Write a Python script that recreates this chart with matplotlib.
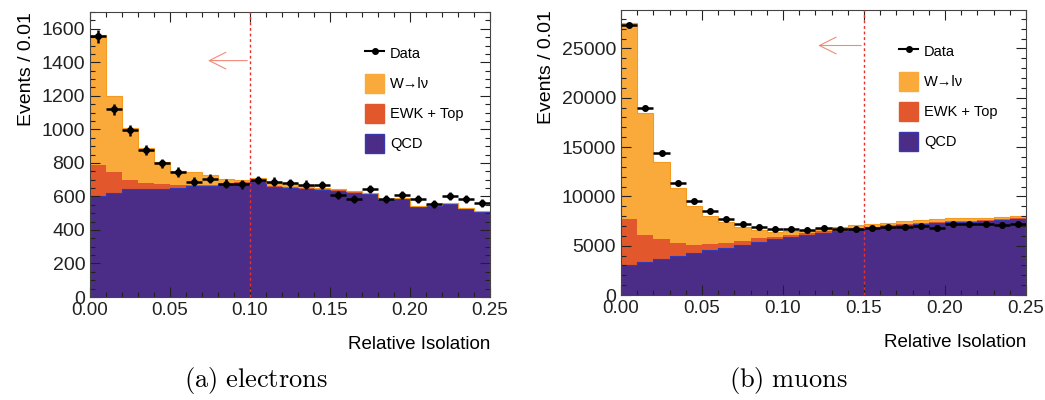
import numpy as np
import matplotlib.pyplot as plt
from matplotlib.ticker import MultipleLocator, FormatStrFormatter
from matplotlib.lines import Line2D
from matplotlib.patches import Patch

plt.rcParams['font.family'] = ['Liberation Sans', 'DejaVu Sans']
plt.rcParams['mathtext.fontset'] = 'cm'

# bin edges of relative isolation (width 0.01)
edges = np.round(np.arange(0, 0.2501, 0.01), 2)

# electrons
qcd_e = [603, 623, 647, 643, 647, 653, 663, 663, 673, 682, 692, 657, 653,
         647, 637, 631, 623, 617, 579, 583, 538, 542, 555, 526, 508]
ewk_e = [187, 122, 53, 37, 25, 15, 7, 7, 7, 6, 5, 6, 6,
         6, 6, 5, 5, 4, 4, 4, 3, 3, 3, 3, 3]
wlv_e = [775, 455, 310, 210, 134, 84, 78, 56, 26, 8, 15, 19, 20,
         14, 10, 7, 5, 2, 2, 2, 2, 2, 2, 2, 2]
data_e = [1555, 1119, 994, 875, 797, 746, 687, 706, 677, 673, 698, 688, 679,
          671, 669, 607, 583, 643, 583, 609, 587, 554, 603, 583, 558]

# muons
qcd_m = [3040, 3300, 3650, 3980, 4300, 4580, 4780, 5100, 5400, 5650, 5850, 6080, 6300,
         6480, 6640, 6760, 6920, 7080, 7160, 7260, 7360, 7430, 7500, 7600, 7670]
ewk_m = [4700, 2800, 2000, 1250, 800, 560, 470, 400, 330, 260, 220, 200, 180,
         170, 160, 150, 140, 130, 120, 110, 110, 100, 100, 100, 100]
wlv_m = [19850, 12370, 7860, 5580, 3920, 2870, 2180, 1420, 860, 510, 430, 320, 340,
         270, 290, 250, 270, 320, 320, 300, 300, 270, 230, 240, 270]
data_m = [27360, 18920, 14360, 11380, 9560, 8480, 7720, 7240, 6870, 6690, 6660, 6590, 6755,
          6660, 6720, 6820, 6860, 6860, 6990, 6820, 7160, 7160, 7230, 7090, 7230]

c_w = '#f9aa3a'
c_ewk = '#e2582c'
c_qcd = '#4b2d88'


def panel(ax, qcd, ewk, wlv, data, cut, arrow_y, arrow_to, ymax, ymaj, ymin):
    qcd = np.array(qcd, float)
    ewk = np.array(ewk, float)
    wlv = np.array(wlv, float)
    data = np.array(data, float)
    lo = edges[:-1]
    ax.bar(lo, qcd, width=0.01, align='edge', color=c_qcd, lw=0)
    ax.bar(lo, ewk, width=0.01, align='edge', bottom=qcd, color=c_ewk, lw=0)
    ax.bar(lo, wlv, width=0.01, align='edge', bottom=qcd + ewk, color=c_w, lw=0)
    ax.stairs(qcd, edges, color='#3838b0', lw=0.8)
    ax.stairs(qcd + ewk + wlv, edges, color='#f39a20', lw=0.8)

    ax.errorbar(lo + 0.005, data, xerr=0.005, yerr=np.sqrt(data), fmt='o',
                color='black', ms=4, elinewidth=1.8, capsize=0, zorder=5)

    ax.axvline(cut, color='#e8302a', ls=(0, (2, 2)), lw=1, zorder=6)
    ax.annotate('', xy=(arrow_to, arrow_y), xytext=(cut, arrow_y),
                arrowprops=dict(arrowstyle='->', color='#f38a78', lw=0.8,
                                mutation_scale=30))

    ax.set_xlim(0, 0.25)
    ax.set_ylim(0, ymax)
    ax.xaxis.set_major_locator(MultipleLocator(0.05))
    ax.xaxis.set_minor_locator(MultipleLocator(0.01))
    ax.xaxis.set_major_formatter(FormatStrFormatter('%.2f'))
    ax.yaxis.set_major_locator(MultipleLocator(ymaj))
    ax.yaxis.set_minor_locator(MultipleLocator(ymin))
    ax.tick_params(which='both', direction='in', top=True, right=True,
                   colors='#222222')
    ax.tick_params(axis='x', labelsize=13.5)
    ax.tick_params(axis='y', labelsize=14)
    ax.tick_params(which='major', length=7, width=0.8)
    ax.tick_params(which='minor', length=3.5, width=0.8)
    for s in ax.spines.values():
        s.set_color('#444444')
        s.set_linewidth(0.8)

    ax.set_ylabel('Events / 0.01', fontsize=14, loc='top', labelpad=5)
    ax.set_xlabel('Relative Isolation', fontsize=13.5, loc='right', labelpad=12)

    handles = [Line2D([], [], color='black', marker='o', ms=4, lw=1.5),
               Patch(facecolor=c_w, edgecolor=c_w),
               Patch(facecolor=c_ewk, edgecolor=c_ewk),
               Patch(facecolor=c_qcd, edgecolor='#3838b0')]
    labels = ['Data', 'W→lν', 'EWK + Top', 'QCD']
    ax.legend(handles, labels, loc='upper left', bbox_to_anchor=(0.655, 0.935),
              frameon=False, fontsize=10.5, handlelength=1.3, handleheight=1.6,
              labelspacing=0.78, handletextpad=0.4)


fig = plt.figure(figsize=(10.45, 4.0), dpi=100)
ax1 = fig.add_axes([90 / 1045, 103 / 400, 400 / 1045, 285 / 400])
ax2 = fig.add_axes([621 / 1045, 105 / 400, 405 / 1045, 285 / 400])

panel(ax1, qcd_e, ewk_e, wlv_e, data_e, 0.10, 1410, 0.072, 1700, 200, 50)
panel(ax2, qcd_m, ewk_m, wlv_m, data_m, 0.15, 25300, 0.12, 28900, 5000, 1000)

fig.text(256 / 1045, 1 - 381 / 400, r'$\mathrm{(a)\ electrons}$', ha='center',
         va='center', fontsize=19)
fig.text(788 / 1045, 1 - 381 / 400, r'$\mathrm{(b)\ muons}$', ha='center',
         va='center', fontsize=19)

fig.savefig('out.png', dpi=100)
